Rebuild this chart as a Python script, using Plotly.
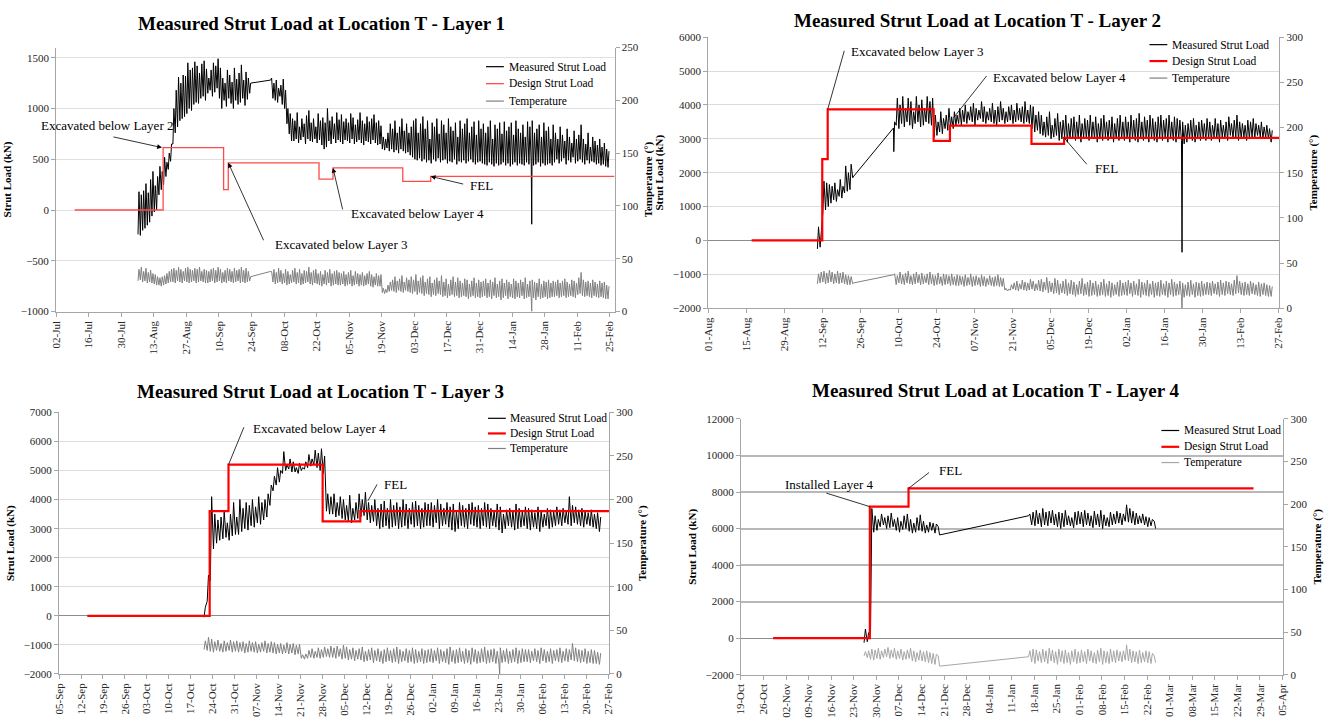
import pandas as pd
import plotly.graph_objects as go

FONT = '"Liberation Serif", "Times New Roman", serif'
W, H = 1331, 719

# ---------------- Layer 1 ----------------
L1_LOAD_A_START = "2012-08-06"
L1_LOAD_A_HI = [180, 150, 190, 260, 170, 300, 380, 240, 330,
                430, 380, 520, 470, 560, 650,
                1000, 1180, 1310, 1250, 1330,
                1320, 1450, 1380, 1400, 1460, 1420, 1350, 1440, 1470, 1390,
                1300, 1380, 1450, 1420, 1490, 1400,
                1300, 1250, 1380, 1330, 1260, 1400, 1290, 1350, 1430, 1280, 1360, 1300, 1250]
L1_LOAD_A_LO = [-240, -250, -200, -180, -150, -120, -60, -20, 0,
                150, 200, 250, 330, 400, 480,
                650, 760, 820, 880, 900,
                920, 950, 1000, 980, 1040, 1060, 1050, 1100, 1120, 1080,
                1150, 1180, 1120, 1160, 1200, 1100,
                1000, 1080, 1020, 1100, 1050, 1000, 1080, 1040, 1060, 1100, 1030, 1090, 1150]
L1_LOAD_B_START = "2012-10-02"
L1_LOAD_B_HI = [1300, 1250, 1280, 1200, 1230, 1290, 1180,
                1000, 950, 900,
                880, 960, 820, 900, 850, 930, 980, 860, 900, 820, 950, 880, 910, 860, 1000, 880, 920, 850, 960, 890,
                940, 870, 900, 860, 950, 910, 840, 890, 960, 880, 850, 920, 870, 900, 940, 860, 880, 830,
                720, 700, 760, 850, 800, 880, 760, 820, 900, 780, 850, 760,
                820, 880, 900, 760, 850, 920, 800, 880, 700, 860, 820, 900, 750, 880, 840, 760, 900, 820, 780, 860,
                720, 880, 800, 850, 900, 760, 820, 870, 740, 880, 800,
                850, 760, 820, 880, 700, 840, 800, 860, 750, 870, 780, 820, 860, 740, 880, 800, 760, 840, 720, 870,
                820, 880, 760, 800, 840, 720, 860, 780, 820, 700, 840,
                760, 700, 820, 740, 680, 800, 720, 660, 780, 700, 740, 840, 700, 650, 760, 620, 720, 680, 640, 700,
                620, 660, 600, 580]
L1_LOAD_B_LO = [1280, 1100, 1080, 1060, 1120, 1040, 1000,
                850, 750, 680,
                680, 700, 660, 690, 720, 650, 700, 680, 670, 700, 660, 690, 640, 600, 620, 680, 650, 700, 660, 690,
                670, 650, 690, 680, 660, 700, 650, 670, 690, 660, 640, 680, 670, 650, 690, 660, 640, 650,
                600, 590, 610, 580, 600, 570, 590, 560, 600, 580, 560, 570,
                540, 520, 500, 490, 510, 480, 500, 470, 490, 460, 500, 480, 510, 470, 490, 500, 460, 480, 470, 500,
                450, 480, 470, 490, 460, 480, 500, 470, 450, 470, 480,
                460, 450, 440, 470, 450, 430, 460, 440, 450, 470, 440, 460, 430, 450, 470, 440, 460, 450, 440, 470,
                450, 460, 440, 450, 470, 430, 460, 440, 450, 460, 440,
                470, 500, 460, 480, 510, 450, 490, 470, 520, 460, 480, 500, 470, 450, 490, 460, 480, 470, 450, 460,
                440, 450, 430, 420]
L1_TEMP_A_HI = [40, 42, 38, 41, 37, 39, 36, 35, 33,
                32, 33, 34, 36, 38, 40,
                41, 39, 42, 40, 38, 41, 42, 40, 39, 41, 40, 42, 38, 40, 39,
                38, 40, 41, 39, 42, 40, 37, 39, 41, 40, 38, 41, 39, 40, 42, 39, 41, 38, 33]
L1_TEMP_A_LO = [29, 30, 28, 29, 27, 28, 27, 26, 25,
                25, 24, 25, 26, 27, 28,
                28, 27, 29, 28, 27, 29, 28, 27, 28, 29, 27, 28, 29, 28, 27,
                27, 28, 29, 27, 28, 29, 27, 28, 27, 29, 28, 27, 28, 29, 27, 28, 27, 28, 29]
L1_TEMP_B_HI = [38, 40, 37, 41, 39, 36, 40, 38, 35, 39, 41, 37, 40, 36, 39, 38, 42, 37, 39, 40,
                36, 38, 35, 39, 37, 40, 36, 38, 39, 37,
                36, 38, 35, 37, 39, 34, 38, 36, 35, 37, 34, 36, 38, 35, 33, 36, 34, 35,
                22, 21, 25, 28, 30, 33, 29, 31, 34, 28, 32, 30,
                33, 30, 35, 29, 32, 34, 28, 31, 33, 27, 30, 32, 29, 34, 28, 31, 26, 30, 33, 28,
                32, 29, 27, 31, 30, 26, 29, 32, 27, 30, 28,
                29, 31, 27, 30, 28, 32, 26, 29, 31, 27, 30, 28, 26, 31, 29, 27, 30, 28, 32, 26,
                29, 30, 28, 27, 31, 26, 29, 28, 30, 27, 29,
                28, 30, 27, 29, 31, 28, 26, 30, 29, 27, 32, 37, 30, 28, 29, 27, 30, 28, 26, 29,
                27, 28, 25, 24]
L1_TEMP_B_LO = [38, 28, 26, 27, 28, 26, 27, 25, 26, 27, 28, 26, 27, 25, 26, 27, 28, 26, 25, 27,
                26, 25, 24, 26, 25, 27, 24, 25, 26, 25,
                25, 26, 24, 25, 26, 24, 25, 26, 24, 25, 24, 25, 26, 24, 23, 25, 24, 24,
                18, 17, 18, 19, 20, 19, 18, 20, 19, 18, 20, 19,
                18, 17, 19, 16, 18, 17, 15, 17, 16, 14, 16, 15, 17, 16, 14, 15, 13, 15, 16, 14,
                15, 13, 14, 15, 14, 12, 14, 15, 13, 14, 13,
                14, 15, 13, 14, 12, 15, 13, 14, 11, 13, 15, 12, 14, 13, 12, 14, 13, 15, 12, 13,
                14, 12, 13, 11, 14, 12, 13, 14, 12, 13, 14,
                14, 15, 13, 14, 15, 13, 14, 15, 14, 13, 16, 17, 15, 14, 15, 14, 13, 15, 14, 13,
                14, 13, 12, 12]
L1_LOAD_DIPS = [("2013-01-22 10:00", -140)]
L1_TEMP_DIPS = [("2013-01-22 10:00", 0)]
L1_DESIGN_DATES = ["2012-07-10", "2012-08-17", "2012-09-12", "2012-09-14", "2012-10-23",
                   "2012-10-29", "2012-11-28", "2012-12-10", "2013-02-27"]
L1_DESIGN_KN = [0, 615, 200, 465, 305, 415, 283, 331, 331]

# ---------------- Layer 2 ----------------
L2_LOAD_A_START = "2012-09-10"
L2_LOAD_A_HI = [400, 300, 1750, 1700, 1650, 1600, 1700, 1500, 1800, 1600, 2200, 2000, 2250, 1900]
L2_LOAD_A_LO = [-250, -200, 800, 900, 1000, 1100, 1200, 1150, 1300, 1250, 1400, 1450, 1500, 1850]
L2_LOAD_B_START = "2012-10-08"
L2_LOAD_B_HI = [3500, 4200, 4000, 4250, 3900, 4200, 4100, 3800, 4250, 4000, 4150, 3900, 4250, 4100, 4200,
                3700, 3500, 3800, 3600, 3700, 3900, 3650, 3800, 3700,
                3900, 3850, 4000, 3800, 3950, 4050, 3900, 3850, 4100, 3950, 3800, 3900, 4050, 3850, 3950, 4100,
                3900, 3800, 3950, 4000, 3850, 4050, 3900, 3950, 4100, 3850, 4000,
                3950, 3700, 3800,
                3700, 3500, 3650, 3800, 3400, 3600, 3750, 3500, 3550, 3700, 3450, 3600, 3650, 3500, 3700, 3450,
                3600, 3550, 3700, 3500, 3650, 3450, 3600, 3700, 3500, 3550, 3650, 3450, 3600, 3700, 3500,
                3650, 3500, 3700, 3550, 3600, 3750, 3500, 3650, 3550, 3700, 3600, 3500, 3650, 3700, 3550, 3600,
                3700, 3500, 3650, 3600, 3550, 3500, 3400, 3450, 3550, 3600, 3400, 3500, 3550, 3450, 3600,
                3500, 3400, 3600, 3450, 3550, 3400, 3500, 3650, 3450, 3550, 3700, 3500, 3450, 3400, 3550, 3500,
                3600, 3450, 3400, 3500, 3350, 3400, 3300, 3250]
L2_LOAD_B_LO = [3320, 3400, 3300, 3450, 3350, 3500, 3400, 3300, 3450, 3500, 3350, 3400, 3500, 3450, 3400,
                3050, 3100, 3200, 3150, 3300, 3250, 3350, 3300, 3400,
                3450, 3400, 3500, 3450, 3550, 3500, 3400, 3550, 3600, 3500, 3450, 3550, 3500, 3450, 3400, 3500,
                3550, 3450, 3500, 3550, 3450, 3500, 3550, 3500, 3450, 3500, 3450,
                3300, 3200, 3250,
                3150, 3100, 3050, 3100, 3000, 3050, 3100, 2950, 3000, 3050, 2900, 3000, 3050, 2950, 3000, 2900,
                3050, 3000, 2950, 3050, 3000, 2900, 3000, 2950, 3050, 2950, 3000, 2900, 3000, 2950, 3000,
                2950, 3000, 2900, 3000, 2950, 2900, 3000, 2950, 3050, 2900, 3000, 2950, 2900, 3000, 2950, 3050,
                2900, 3000, 2950, 2900, 3000, 2950, 2850, 2900, 3000, 2950, 2900, 3000, 2950, 3050, 2950,
                3000, 2950, 3050, 3000, 2900, 3050, 3000, 2950, 3100, 3000, 3050, 2950, 3000, 3050, 2950, 3000,
                3050, 3000, 3100, 3050, 3000, 3050, 3000, 2900]
L2_TEMP_A_HI = [38, 40, 41, 39, 42, 40, 38, 41, 39, 40, 37, 36, 35, 28]
L2_TEMP_A_LO = [27, 28, 29, 27, 28, 29, 27, 28, 27, 28, 27, 26, 26, 27]
L2_TEMP_B_HI = [38, 36, 40, 37, 39, 41, 36, 38, 40, 37, 39, 36, 38, 40, 37, 36, 39, 35, 38, 37, 36, 38, 35, 37,
                36, 35, 37, 34, 38, 35, 36, 34, 37, 35, 33, 36, 34, 35, 37, 34, 33,
                22, 21, 26, 28, 30, 27, 31, 29, 28, 32, 30, 27, 31,
                32, 29, 34, 30, 28, 33, 31, 27, 30, 32, 28, 31, 29, 26, 30, 33, 27, 29, 31, 28,
                30, 26, 29, 32, 27, 30, 28, 26, 29, 31, 28,
                29, 31, 28, 30, 27, 32, 29, 28, 31, 27, 30, 28, 29, 31, 27, 30, 28, 32, 29, 27,
                30, 28, 26, 29, 31, 27, 29, 28, 30, 27, 29,
                28, 30, 27, 29, 31, 28, 30, 29, 27, 31, 36, 30, 28, 29, 27, 30, 28, 26, 29, 27,
                28, 26, 25, 24]
L2_TEMP_B_LO = [37, 26, 28, 27, 26, 28, 27, 26, 27, 28, 26, 27, 28, 26, 27, 25, 26, 27, 25, 26, 27, 25, 26, 25,
                25, 26, 24, 25, 26, 24, 25, 26, 24, 25, 24, 26, 25, 24, 25, 24, 24,
                20, 19, 20, 21, 20, 19, 21, 20, 19, 20, 21, 19, 20,
                19, 18, 20, 17, 18, 16, 17, 15, 17, 16, 14, 16, 15, 13, 15, 16, 14, 15, 13, 14,
                15, 13, 14, 15, 13, 14, 12, 14, 15, 13, 14,
                15, 14, 16, 13, 15, 14, 12, 15, 14, 13, 15, 12, 14, 13, 15, 14, 12, 15, 13, 14,
                15, 13, 12, 14, 13, 15, 12, 14, 13, 14, 15,
                15, 14, 16, 15, 13, 15, 14, 16, 15, 14, 16, 17, 15, 14, 15, 14, 16, 15, 14, 13,
                15, 14, 13, 13]
L2_LOAD_DIPS = [("2012-10-08 08:00", 2620), ("2013-01-22 10:00", -350)]
L2_TEMP_DIPS = [("2013-01-22 10:00", 0)]
L2_DESIGN_DATES = ["2012-08-17", "2012-09-12", "2012-09-14", "2012-10-23", "2012-10-29",
                   "2012-11-28", "2012-12-10", "2013-02-27 06:00"]
L2_DESIGN_KN = [0, 2400, 3870, 2940, 3390, 2850, 3030, 3030]

# ---------------- Layer 3 ----------------
L3_LOAD_START = "2012-10-21"
L3_LOAD_HI = [300, 1400, 4100, 3500, 3300, 3400, 3600, 3200, 3500, 3900, 3400,
              4000, 3700, 3900, 3800, 4000, 3750, 4100, 3900, 4000, 4200,
              4500, 4800, 5100, 5000,
              5650, 5200, 5400, 5300, 5100, 5250, 5100, 5300, 5550, 5400, 5700, 5600, 5750,
              5500, 4200, 4100,
              4200, 3900, 4100, 4000, 3800, 4150, 3700, 3900, 4200, 4000, 4250, 3900, 3800, 4000, 3700, 3850,
              3950, 3700, 4000, 3800, 3900, 3750, 4000, 3850, 3700, 3900, 3950, 3800, 3700, 3900, 3850,
              3900, 3800, 4000, 3850, 3700, 3900, 3750, 3850, 3600, 3900, 3800, 3700, 3850, 3900, 3750, 3800,
              3700, 3900, 3850, 3700, 3600, 3850, 3750, 3500, 3650, 3700, 3600, 3850, 3700, 3600, 3750,
              3700, 3650, 3550, 3750, 3600, 3500, 3700, 3650, 3600, 3750, 3650, 3700, 3600, 4100, 3800, 3750,
              3650, 3700, 3600, 3550, 3650, 3500, 3550, 3400]
L3_LOAD_LO = [-50, 500, 1200, 2300, 2500, 2600, 2650, 2700, 2600, 2750, 2800,
              2800, 2900, 3000, 2950, 3100, 3050, 3200, 3150, 3300, 3400,
              3800, 4300, 4500, 4600,
              4900, 5000, 5050, 4950, 4950, 4900, 5000, 5050, 5100, 5150, 5200, 5100, 5000,
              4900, 3600, 3500,
              3500, 3400, 3450, 3350, 3300, 3250, 3200, 3300, 3350, 3400, 3450, 3300, 3200, 3250, 3100, 3000,
              3050, 3100, 3000, 3050, 3100, 3000, 3050, 3100, 3000, 3150, 3050, 3100, 3000, 3050, 3100,
              3100, 3050, 3200, 3000, 3100, 3150, 3050, 2950, 2900, 3000, 3100, 3050, 3000, 3150, 3100, 3050,
              3000, 3100, 3050, 3000, 3100, 3050, 2950, 2850, 3000, 3100, 3050, 2950, 3000, 3050, 3100,
              3000, 2950, 3050, 3000, 2900, 3050, 3100, 3000, 3050, 3100, 3150, 3100, 3200, 3150, 3100, 3200,
              3150, 3100, 3050, 3150, 3100, 3050, 3000, 2900]
L3_TEMP_HI = [38, 42, 40, 37, 39, 35, 38, 36, 39, 37, 38,
              36, 37, 35, 38, 36, 37, 34, 36, 38, 35, 37, 36, 34, 35, 33, 36, 34, 35, 33, 34,
              22, 23, 27, 29, 26, 30, 28, 31, 29, 32,
              30, 32, 29, 33, 31, 28, 30, 27, 29, 31, 26, 28, 30, 27, 29, 26, 28, 30, 27, 29,
              31, 28, 26, 29, 27, 30, 28, 26, 29, 27, 28,
              29, 27, 30, 28, 26, 29, 31, 27, 28, 30, 26, 29, 27, 30, 28, 26, 29, 31, 27, 28,
              29, 26, 30, 27, 29, 26, 28, 30, 27, 29, 28,
              28, 26, 29, 27, 30, 28, 26, 29, 27, 28, 30, 26, 29, 28, 35, 30, 28, 27, 29, 26,
              28, 27, 25, 24]
L3_TEMP_LO = [28, 27, 26, 25, 27, 26, 25, 26, 27, 25, 26,
              25, 26, 24, 25, 26, 25, 24, 25, 26, 24, 25, 24, 23, 24, 23, 24, 23, 24, 22, 23,
              18, 17, 18, 19, 18, 19, 18, 19, 20, 19,
              19, 18, 20, 17, 18, 16, 17, 15, 17, 16, 14, 15, 16, 13, 15, 14, 12, 14, 15, 13,
              14, 12, 14, 15, 13, 14, 12, 13, 14, 12, 13,
              14, 13, 15, 12, 14, 13, 11, 14, 12, 13, 14, 12, 13, 11, 14, 12, 13, 14, 12, 13,
              14, 12, 11, 13, 14, 12, 13, 14, 12, 13, 14,
              14, 13, 15, 14, 12, 15, 13, 14, 12, 15, 14, 13, 15, 14, 16, 15, 14, 13, 14, 12,
              13, 12, 12, 11]
L3_LOAD_DIPS = []
L3_TEMP_DIPS = [("2013-01-23 10:00", 0)]
L3_DESIGN_DATES = ["2012-09-14", "2012-10-23", "2012-10-29", "2012-11-28", "2012-12-10", "2013-02-27 06:00"]
L3_DESIGN_KN = [0, 3600, 5200, 3250, 3600, 3600]

# ---------------- Layer 4 ----------------
L4_LOAD_A_START = "2012-11-26"
L4_LOAD_A_HI = [500, 300, 7100,
                6700, 6500, 6800, 6600, 6700, 6850, 6500, 6600, 6400, 6700, 6800, 6500, 6300, 6600, 6750, 6400,
                6200, 6350, 6300, 6250, 5650]
L4_LOAD_A_LO = [-250, -200, 300,
                5800, 5900, 6100, 6200, 6000, 6050, 6100, 5900, 5800, 5950, 6000, 5850, 5750, 5800, 5900, 5850,
                5750, 5800, 5900, 5750, 6100]
L4_LOAD_B_START = "2013-01-16"
L4_LOAD_B_HI = [6800, 6900, 7000, 6850, 7100, 6900, 6950, 7000, 6800, 6900, 6850, 7000, 6700, 6600, 6900, 6950,
                6900, 7000, 6850, 6700, 6950, 6800, 7000, 6750, 6600, 6900, 6800, 6950, 6850, 6800, 7300, 7100,
                6950, 6850, 6700, 6800, 6650, 6600, 6500, 6000]
L4_LOAD_B_LO = [6700, 6200, 6150, 6250, 6100, 6200, 6150, 6300, 6200, 6100, 6000, 6100, 6200, 6150, 6050, 6200,
                6250, 6100, 6200, 6150, 6050, 6200, 6100, 6000, 6150, 6100, 6200, 6250, 6300, 6200, 6400, 6350,
                6300, 6200, 6250, 6300, 6200, 6100, 6150, 6400]
L4_TEMP_A_HI = [27, 28, 30, 29, 31, 28, 30, 32, 29, 31, 28, 30, 27, 29, 31, 28, 26, 29, 27, 28, 26, 25, 24, 10]
L4_TEMP_A_LO = [22, 20, 18, 17, 19, 18, 20, 21, 19, 20, 18, 19, 17, 18, 19, 16, 15, 17, 16, 15, 14, 13, 12, 22]
L4_TEMP_B_HI = [28, 30, 29, 27, 30, 28, 31, 29, 27, 30, 28, 29, 26, 28, 30, 27,
                29, 27, 30, 28, 26, 29, 31, 28, 27, 30, 28, 29, 27, 28, 35, 30, 28, 27, 29, 26, 28, 27, 25, 14]
L4_TEMP_B_LO = [21, 15, 13, 16, 14, 15, 13, 16, 14, 12, 15, 13, 14, 12, 15, 13,
                14, 15, 13, 16, 14, 13, 15, 12, 14, 13, 15, 14, 16, 15, 17, 16, 14, 15, 13, 14, 15, 14, 13, 22]
L4_DESIGN_DATES = ["2012-10-29", "2012-11-28", "2012-12-10", "2013-03-27"]
L4_DESIGN_KN = [0, 7200, 8200, 8200]

SERIES_NAMES = ["Measured Strut Load", "Design Strut Load", "Temperature"]


def px(x):
    return x / W


def py(y):
    return 1 - y / H


def daily_cycles(start, hi, lo):
    """Each day contributes a morning reading and an afternoon reading."""
    t0 = pd.Timestamp(start)
    pts = []
    for i, (h, l) in enumerate(zip(hi, lo)):
        day = t0 + pd.Timedelta(days=i)
        pts.append((day + pd.Timedelta(hours=5), l))
        pts.append((day + pd.Timedelta(hours=15), h))
    return pts


def build(segments, dips=()):
    pts = []
    for start, hi, lo in segments:
        pts += daily_cycles(start, hi, lo)
    pts += [(pd.Timestamp(t), v) for t, v in dips]
    pts.sort(key=lambda p: p[0])
    return [p[0] for p in pts], [p[1] for p in pts]


panels = [
    dict(load=[(L1_LOAD_A_START, L1_LOAD_A_HI, L1_LOAD_A_LO), (L1_LOAD_B_START, L1_LOAD_B_HI, L1_LOAD_B_LO)],
         temp=[(L1_LOAD_A_START, L1_TEMP_A_HI, L1_TEMP_A_LO), (L1_LOAD_B_START, L1_TEMP_B_HI, L1_TEMP_B_LO)],
         load_dips=L1_LOAD_DIPS, temp_dips=L1_TEMP_DIPS,
         design=(L1_DESIGN_DATES, L1_DESIGN_KN),
         title="Measured Strut Load at Location T - Layer 1", title_xy=(318, 18),
         box=(50.5, 613.6, 42.3, 310.7), xr=["2012-07-02", "2013-02-27"], dtick=14,
         yr=[-1000, 1600], ydt=500, tr=[0, 250],
         red="#ff4a4a", red_w=1.3, temp_col="#808080", grid="#e0e0e0", zero="#e0e0e0", grid_w=1,
         legend=(484, 502, 505, [61.7, 79, 96.7])),
    dict(load=[(L2_LOAD_A_START, L2_LOAD_A_HI, L2_LOAD_A_LO), (L2_LOAD_B_START, L2_LOAD_B_HI, L2_LOAD_B_LO)],
         temp=[(L2_LOAD_A_START, L2_TEMP_A_HI, L2_TEMP_A_LO), (L2_LOAD_B_START, L2_TEMP_B_HI, L2_TEMP_B_LO)],
         load_dips=L2_LOAD_DIPS, temp_dips=L2_TEMP_DIPS,
         design=(L2_DESIGN_DATES, L2_DESIGN_KN),
         title="Measured Strut Load at Location T - Layer 2", title_xy=(980, 15),
         box=(708, 1284, 31.7, 307.3), xr=["2012-08-01", "2013-02-27 06:00"], dtick=14,
         yr=[-2000, 6000], ydt=1000, tr=[0, 300],
         red="#ff0000", red_w=2.2, temp_col="#808080", grid="#dcdcdc", zero="#8c8c8c", grid_w=1,
         legend=(1153, 1171, 1174, [39.3, 56, 73.3])),
    dict(load=[(L3_LOAD_START, L3_LOAD_HI, L3_LOAD_LO)],
         temp=[(L3_LOAD_START, L3_TEMP_HI, L3_TEMP_LO)],
         load_dips=L3_LOAD_DIPS, temp_dips=L3_TEMP_DIPS,
         design=(L3_DESIGN_DATES, L3_DESIGN_KN),
         title="Measured Strut Load at Location T - Layer 3", title_xy=(317, 391.7),
         box=(53.5, 608, 413.3, 679.3), xr=["2012-09-05", "2013-02-27 06:00"], dtick=7,
         yr=[-2000, 7000], ydt=1000, tr=[0, 300],
         red="#ff0000", red_w=2.2, temp_col="#808080", grid="#dcdcdc", zero="#8c8c8c", grid_w=1,
         legend=(486, 504, 506, [419.3, 434.7, 450])),
    dict(load=[(L4_LOAD_A_START, L4_LOAD_A_HI, L4_LOAD_A_LO), (L4_LOAD_B_START, L4_LOAD_B_HI, L4_LOAD_B_LO)],
         temp=[(L4_LOAD_A_START, L4_TEMP_A_HI, L4_TEMP_A_LO), (L4_LOAD_B_START, L4_TEMP_B_HI, L4_TEMP_B_LO)],
         load_dips=[], temp_dips=[],
         design=(L4_DESIGN_DATES, L4_DESIGN_KN),
         title="Measured Strut Load at Location T - Layer 4", title_xy=(998, 390.7),
         box=(741, 1288, 420, 680), xr=["2012-10-19", "2013-04-05 06:00"], dtick=7,
         yr=[-2000, 12000], ydt=2000, tr=[0, 300],
         red="#ff0000", red_w=2.2, temp_col="#a6a6a6", grid="#b8b8b8", zero="#8c8c8c", grid_w=1.5,
         legend=(1165, 1183, 1186, [431.7, 448.3, 464.3])),
]

AX = "#a6a6a6"
TICKFONT = dict(family=FONT, size=11, color="#262626")
TITLEFONT = dict(family=FONT, size=11, color="#000000")

fig = go.Figure()
layout = dict(width=W, height=H, margin=dict(l=0, r=0, t=0, b=0),
              paper_bgcolor="white", plot_bgcolor="white", showlegend=False,
              font=dict(family=FONT))
shapes, annotations = [], []

for k, p in enumerate(panels):
    n = k + 1
    xname = "x" if n == 1 else f"x{n}"
    yl = 2 * n - 1
    yr_ = 2 * n
    ylname = "y" if yl == 1 else f"y{yl}"
    yrname = f"y{yr_}"
    left, right, top, bottom = p["box"]
    xdom = [px(left), px(right)]
    ydom = [py(bottom), py(top)]

    layout["xaxis" if n == 1 else f"xaxis{n}"] = dict(
        domain=xdom, anchor=ylname, type="date", range=p["xr"], tick0=p["xr"][0][:10],
        dtick=p["dtick"] * 86400000, tickformat="%d-%b", tickangle=-90,
        ticks="outside", ticklen=4, tickcolor=AX, showline=True, linecolor=AX, linewidth=1,
        showgrid=False, zeroline=False, tickfont=TICKFONT)
    layout["yaxis" if yl == 1 else f"yaxis{yl}"] = dict(
        domain=ydom, anchor=xname, range=p["yr"], dtick=p["ydt"], tick0=0, tickformat="d",
        showgrid=True, gridcolor=p["grid"], gridwidth=p["grid_w"],
        zeroline=True, zerolinecolor=p["zero"], zerolinewidth=1.2,
        showline=True, linecolor=AX, ticks="outside", ticklen=4, tickcolor=AX,
        tickfont=TICKFONT,
        title=dict(text="<b>Strut Load (kN)</b>", font=TITLEFONT, standoff=6))
    layout[f"yaxis{yr_}"] = dict(
        domain=ydom, anchor=xname, overlaying=ylname, side="right", range=p["tr"], dtick=50,
        showgrid=False, zeroline=False, showline=True, linecolor=AX, ticks="outside",
        ticklen=4, tickcolor=AX, tickfont=TICKFONT,
        title=dict(text="<b>Temperature (°)</b>", font=TITLEFONT, standoff=6))

    tx, tyv = build(p["temp"], p["temp_dips"])
    fig.add_trace(go.Scatter(x=tx, y=tyv, mode="lines", name=SERIES_NAMES[2],
                             line=dict(color=p["temp_col"], width=1), xaxis=xname, yaxis=yrname))
    lx, lyv = build(p["load"], p["load_dips"])
    fig.add_trace(go.Scatter(x=lx, y=lyv, mode="lines", name=SERIES_NAMES[0],
                             line=dict(color="#000000", width=1), xaxis=xname, yaxis=ylname))
    dd, dv = p["design"]
    fig.add_trace(go.Scatter(x=[pd.Timestamp(d) for d in dd], y=dv, mode="lines", name=SERIES_NAMES[1],
                             line=dict(color=p["red"], width=p["red_w"], shape="hv"),
                             xaxis=xname, yaxis=ylname))

    # chart title
    annotations.append(dict(xref="paper", yref="paper", x=px(p["title_xy"][0]), y=py(p["title_xy"][1]),
                            xanchor="center", yanchor="middle", showarrow=False,
                            text=f"<b>{p['title']}</b>",
                            font=dict(family=FONT, size=19, color="#000000")))

    # legend block
    lx0, lx1, ltx, lys = p["legend"]
    colors = ["#000000", p["red"], p["temp_col"]]
    widths = [1.2, p["red_w"], 1.2]
    for name, c, w, yy in zip(SERIES_NAMES, colors, widths, lys):
        shapes.append(dict(type="line", xref="paper", yref="paper", x0=px(lx0), x1=px(lx1),
                           y0=py(yy), y1=py(yy), line=dict(color=c, width=w)))
        annotations.append(dict(xref="paper", yref="paper", x=px(ltx), y=py(yy), xanchor="left",
                                yanchor="middle", showarrow=False, text=name,
                                font=dict(family=FONT, size=11.5, color="#000000")))

# stage callouts: (panel, label, text left px, text centre y px, tip date, tip kN, tail dx, tail dy, head)
CALLOUTS = [
    (1, "Excavated below Layer 2", 33, 121.7, "2012-08-16 12:00", 615, -50, -11, 2),
    (1, "Excavated below Layer 3", 269, 242.7, "2012-09-14", 465, 36, 79, 2),
    (1, "Excavated below Layer 4", 346, 210.7, "2012-10-29", 415, 10, 43, 2),
    (1, "FEL", 466, 182.3, "2012-12-10", 331, 34, 8, 2),
    (2, "Excavated below Layer 3", 850, 46.7, "2012-09-14", 3870, 17, -60, 0),
    (2, "Excavated below Layer 4", 993, 72.7, "2012-10-30 10:00", 3630, 34, -43, 0),
    (2, "FEL", 1096.5, 165, "2012-12-10", 3030, 24, 28, 0),
    (3, "Excavated below Layer 4", 247.5, 429.3, "2012-10-29", 5200, 16, -39, 0),
    (3, "FEL", 379, 486.7, "2012-12-12 10:00", 3955, 10, -18, 0),
    (4, "Installed Layer 4", 783, 486.7, "2012-11-28", 7200, -45, -14, 0),
    (4, "FEL", 939, 472.7, "2012-12-10", 8200, 22, -17, 0),
]
for n, label, tx0, ty0, tip_x, tip_y, dx, dy, head in CALLOUTS:
    xname = "x" if n == 1 else f"x{n}"
    ylname = "y" if n == 1 else f"y{2 * n - 1}"
    annotations.append(dict(xref=xname, yref=ylname, x=tip_x, y=tip_y, ax=dx, ay=dy,
                            text="", showarrow=True, arrowhead=head, arrowsize=1.2,
                            arrowwidth=0.8, arrowcolor="#000000", standoff=0))
    annotations.append(dict(xref="paper", yref="paper", x=px(tx0), y=py(ty0), xanchor="left",
                            yanchor="middle", showarrow=False, text=label,
                            font=dict(family=FONT, size=13, color="#000000")))

layout["shapes"] = shapes
layout["annotations"] = annotations
fig.update_layout(**layout)
fig.write_html("out.html")
